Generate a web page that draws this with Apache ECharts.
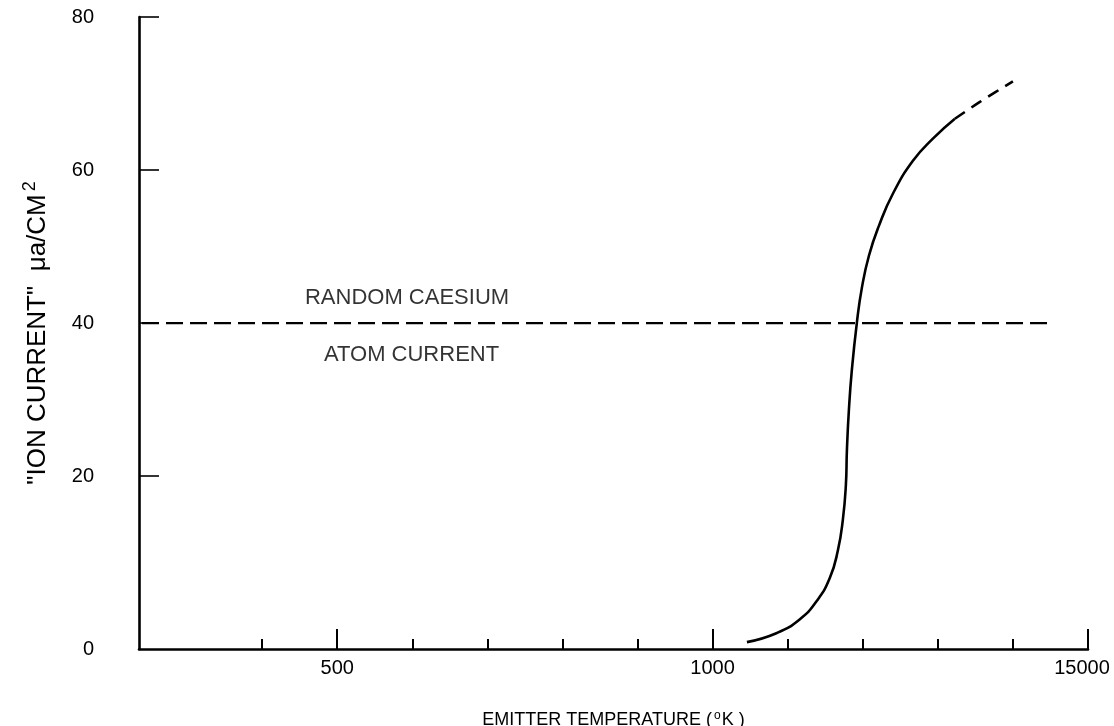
<!DOCTYPE html>
<html>
<head>
<meta charset="utf-8">
<script src="https://cdn.jsdelivr.net/npm/echarts@6/dist/echarts.min.js"></script>
<style>
  html, body { margin: 0; padding: 0; background: #ffffff; }
  #chart { width: 1114px; height: 726px; }
</style>
</head>
<body>
<div id="chart"></div>
<script>
// Emitter temperature scale (°K)
const tempMin = 236;
const tempMax = 1500;
const minorTickTemps = [400, 500, 600, 700, 800, 900, 1000, 1100, 1200, 1300, 1400, 1500];
const majorTickTemps = [500, 1000, 1500];
const majorTickText = ['500', '1000', '15000'];

// Ion current scale (µa/cm²); the drawn base line sits a little under zero
const currentFloor = -2.6;
const currentMax = 80;
const currentTicks = [20, 40, 60, 80];
const currentLabelValues = [currentFloor, 20, 40, 60, 80];
const currentLabelText = ['0', '20', '40', '60', '80'];

// Measured ion current vs emitter temperature (solid part)
const ionTemp = [1045.7, 1085.7, 1116.3, 1138.9, 1156.2, 1166.9, 1173.5, 1177.5, 1178.9, 1181.5,
                 1185.5, 1192.2, 1198.8, 1208.2, 1221.5, 1240.1, 1266.8, 1293.4, 1322.7];
const ionCurrent = [-1.7, -0.5, 1.3, 3.7, 6.7, 10.3, 14.3, 18.8, 23.4, 28.6,
                    33.9, 40.1, 44.6, 48.8, 52.7, 56.9, 61.2, 64.1, 66.7];

// Extrapolated continuation (dashed)
const extTemp = [1322.7, 1356, 1400];
const extCurrent = [66.7, 68.9, 71.6];

// Random caesium atom current level
const atomLevel = 40;
const atomLevelTemp = [240, 1453];
const atomLabelTop = 'RANDOM CAESIUM';
const atomLabelBottom = 'ATOM CURRENT';

const FONT = '"Liberation Sans", Arial, sans-serif';
const INK = '#000000';

const pairs = (xs, ys) => xs.map((x, i) => [x, ys[i]]);

const chart = echarts.init(document.getElementById('chart'), null, { renderer: 'canvas' });

chart.setOption({
  backgroundColor: '#ffffff',
  animation: false,
  grid: { left: 139, right: 26, top: 17, bottom: 77, containLabel: false, outerBoundsMode: 'none' },
  xAxis: [
    {
      type: 'value',
      min: tempMin,
      max: tempMax,
      position: 'bottom',
      splitLine: { show: false },
      axisLine: { show: true, onZero: false, lineStyle: { color: INK, width: 2.6 } },
      axisTick: { show: true, inside: true, length: 10, customValues: minorTickTemps, lineStyle: { color: INK, width: 2 } },
      axisLabel: { show: false },
      name: 'EMITTER TEMPERATURE ({sup|o}K )',
      nameLocation: 'middle',
      nameGap: 61,
      nameTextStyle: {
        fontFamily: FONT, fontSize: 18, color: INK,
        rich: { sup: { fontFamily: FONT, fontSize: 12, color: INK, verticalAlign: 'top', padding: [0, 1, 8, 2] } }
      }
    },
    {
      type: 'value',
      min: tempMin,
      max: tempMax,
      position: 'bottom',
      splitLine: { show: false },
      axisLine: { show: false, onZero: false },
      axisTick: { show: true, inside: true, length: 20, customValues: majorTickTemps, lineStyle: { color: INK, width: 2 } },
      axisLabel: {
        show: true,
        customValues: majorTickTemps,
        margin: 9,
        fontFamily: FONT, fontSize: 20, color: INK,
        formatter: v => {
          const i = majorTickTemps.indexOf(v);
          return i === majorTickTemps.length - 1 ? '{last|' + majorTickText[i] + '}' : majorTickText[i];
        },
        rich: { last: { fontFamily: FONT, fontSize: 20, color: INK, padding: [0, 12, 0, 0] } }
      }
    }
  ],
  yAxis: {
    type: 'value',
    min: currentFloor,
    max: currentMax,
    splitLine: { show: false },
    axisLine: { show: true, onZero: false, lineStyle: { color: INK, width: 2.6 } },
    axisTick: { show: true, inside: true, length: 20, customValues: currentTicks, lineStyle: { color: INK, width: 1.6 } },
    axisLabel: {
      show: true,
      customValues: currentLabelValues,
      margin: 45,
      fontFamily: FONT, fontSize: 20, color: INK,
      formatter: v => currentLabelText[currentLabelValues.indexOf(v)]
    },
    name: '"ION CURRENT"  μa/CM{sup|2}',
    nameLocation: 'middle',
    nameGap: 85,
    nameTextStyle: {
      fontFamily: FONT, fontSize: 26, color: INK,
      rich: { sup: { fontFamily: FONT, fontSize: 18, color: INK, verticalAlign: 'top', padding: [0, 0, 15, 3] } }
    }
  },
  series: [
    {
      name: 'ion current',
      type: 'line',
      data: pairs(ionTemp, ionCurrent),
      smooth: 0.5,
      showSymbol: false,
      symbol: 'none',
      lineStyle: { color: INK, width: 2.6 },
      z: 5
    },
    {
      name: 'ion current (extrapolated)',
      type: 'line',
      data: pairs(extTemp, extCurrent),
      smooth: 0.3,
      symbol: 'none',
      lineStyle: { color: INK, width: 2.6, type: [12, 8] },
      z: 5
    },
    {
      name: 'random caesium atom current',
      type: 'line',
      data: atomLevelTemp.map(t => [t, atomLevel]),
      symbol: 'none',
      lineStyle: { color: INK, width: 2.2, type: [17, 7] },
      z: 4
    },
    {
      name: 'level caption',
      type: 'scatter',
      symbolSize: 0,
      silent: true,
      data: [
        { value: [593, atomLevel], label: { position: 'top', distance: 14, formatter: atomLabelTop } },
        { value: [599, atomLevel], label: { position: 'bottom', distance: 21, formatter: atomLabelBottom } }
      ],
      label: { show: true, fontFamily: FONT, fontSize: 22, color: INK }
    }
  ]
});
</script>
</body>
</html>
